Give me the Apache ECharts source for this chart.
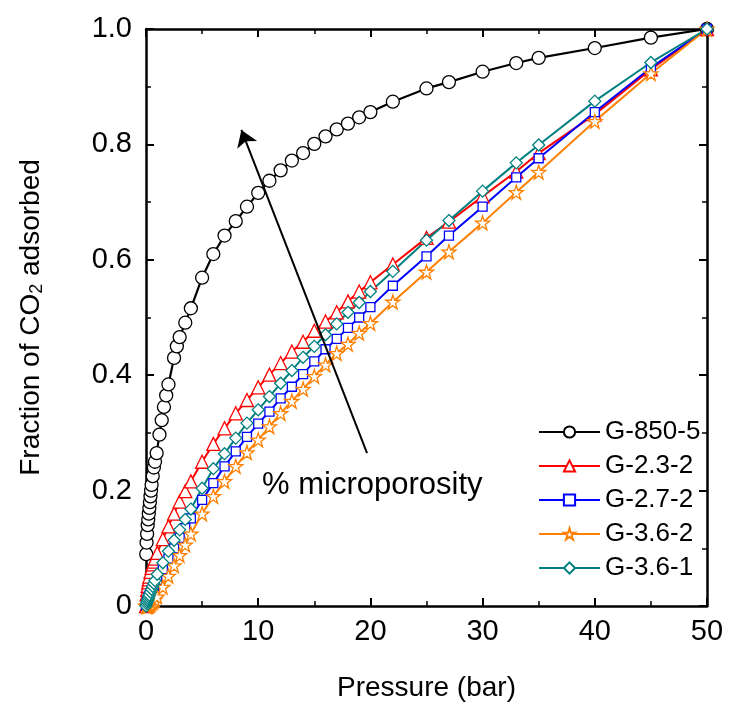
<!DOCTYPE html>
<html>
<head>
<meta charset="utf-8">
<script src="https://cdn.jsdelivr.net/npm/echarts@6/dist/echarts.min.js"></script>
<style>
html,body{margin:0;padding:0;background:#fff;}
#chart{width:731px;height:708px;}
</style>
</head>
<body>
<div id="chart"></div>
<script>
// ---- data ----
const seriesNames = ['G-850-5', 'G-2.3-2', 'G-2.7-2', 'G-3.6-2', 'G-3.6-1'];

const pBlack = [0.02,0.05,0.1,0.15,0.2,0.25,0.3,0.35,0.4,0.45,0.5,0.6,0.7,0.8,0.95,1.2,1.4,1.6,1.8,2,2.5,2.75,3,3.5,4,5,6,7,8,9,10,11,12,13,14,15,16,17,18,19,20,22,25,27,30,33,35,40,45,50];
const vBlack = [0.09,0.11,0.125,0.14,0.15,0.16,0.17,0.18,0.19,0.20,0.21,0.225,0.24,0.25,0.265,0.297,0.322,0.345,0.365,0.384,0.43,0.45,0.466,0.491,0.516,0.569,0.61,0.642,0.667,0.692,0.716,0.737,0.755,0.772,0.785,0.801,0.814,0.826,0.836,0.847,0.856,0.874,0.897,0.908,0.926,0.941,0.95,0.967,0.985,1.0];

const pCommon = [0,0.05,0.1,0.15,0.2,0.25,0.3,0.4,0.5,0.6,0.7,0.8,1,1.5,2,2.5,3,3.5,4,5,6,7,8,9,10,11,12,13,14,15,16,17,18,19,20,22,25,27,30,33,35,40,45,50];
const vRed = [0,0.02,0.028,0.035,0.041,0.046,0.051,0.059,0.066,0.072,0.077,0.082,0.092,0.116,0.138,0.160,0.181,0.199,0.216,0.250,0.281,0.308,0.334,0.357,0.379,0.401,0.421,0.441,0.458,0.477,0.493,0.509,0.528,0.545,0.561,0.592,0.638,0.666,0.710,0.753,0.785,0.852,0.930,1.0];
const vBlue = [0,0.004,0.007,0.01,0.013,0.016,0.018,0.022,0.026,0.030,0.034,0.038,0.045,0.064,0.082,0.100,0.118,0.135,0.152,0.184,0.213,0.242,0.268,0.293,0.316,0.337,0.360,0.380,0.402,0.424,0.445,0.463,0.482,0.500,0.518,0.555,0.606,0.642,0.692,0.743,0.776,0.856,0.933,1.0];
const vOrange = [0,0,0,0,0.001,0.001,0.002,0.003,0.005,0.007,0.009,0.011,0.016,0.033,0.052,0.070,0.088,0.106,0.125,0.160,0.190,0.216,0.242,0.266,0.288,0.311,0.334,0.355,0.376,0.398,0.418,0.438,0.454,0.473,0.490,0.527,0.579,0.614,0.664,0.717,0.752,0.840,0.923,1.0];
const vTeal = [0,0.004,0.007,0.010,0.013,0.016,0.019,0.024,0.029,0.034,0.039,0.044,0.055,0.075,0.095,0.114,0.132,0.150,0.168,0.204,0.238,0.264,0.291,0.317,0.340,0.363,0.386,0.408,0.431,0.450,0.470,0.489,0.509,0.526,0.545,0.580,0.634,0.668,0.719,0.768,0.799,0.875,0.942,1.0];

const xTicks = [0, 10, 20, 30, 40, 50];
const yTicks = [0, 0.2, 0.4, 0.6, 0.8, 1.0];

// annotation arrow (data coordinates) and text
const arrowFrom = [19.7, 0.265];
const arrowTo = [8.5, 0.825];
const annotationText = '% microporosity';

// ---- chart ----
const FONT = '"Liberation Sans", Arial, sans-serif';
const zip = (xs, ys) => xs.map((x, i) => [x, ys[i]]);
const STAR = 'path://M50,2 L61.2,36 L97,36 L68,57 L79,91 L50,70 L21,91 L32,57 L3,36 L38.8,36 Z';

function mk(name, xs, ys, color, symbol, size, lw) {
  return {
    name: name, type: 'line', data: zip(xs, ys),
    symbol: symbol, symbolSize: size, showSymbol: true,
    lineStyle: {color: color, width: lw},
    itemStyle: {color: '#fff', borderColor: color, borderWidth: 1.3},
    emphasis: {disabled: true},
    z: 3
  };
}

const axisCommon = {
  axisLine: {show: true, onZero: false, lineStyle: {color: '#000', width: 2.5}},
  axisTick: {show: true, inside: true, length: 8, lineStyle: {color: '#000', width: 2}},
  minorTick: {show: true, splitNumber: 2, length: 5, lineStyle: {color: '#000', width: 1.5}},
  splitLine: {show: false},
  minorSplitLine: {show: false}
};

const chart = echarts.init(document.getElementById('chart'), null, {renderer: 'canvas'});
const option = {
  animation: false,
  backgroundColor: '#fff',
  grid: {left: 146, right: 24, top: 29, bottom: 102, containLabel: false},
  xAxis: [
    Object.assign({
      type: 'value', min: xTicks[0], max: xTicks[xTicks.length - 1], interval: 10,
      position: 'bottom',
      name: 'Pressure (bar)', nameLocation: 'middle', nameGap: 68,
      nameTextStyle: {fontFamily: FONT, fontSize: 28, color: '#000'},
      axisLabel: {show: true, margin: 11, fontFamily: FONT, fontSize: 29, color: '#000'}
    }, axisCommon),
    Object.assign({
      type: 'value', min: xTicks[0], max: xTicks[xTicks.length - 1], interval: 10,
      position: 'top', axisLabel: {show: false}
    }, axisCommon)
  ],
  yAxis: [
    Object.assign({
      type: 'value', min: yTicks[0], max: yTicks[yTicks.length - 1], interval: 0.2,
      position: 'left',
      name: '{a|Fraction of CO}{s|2}{a| adsorbed}', nameLocation: 'middle', nameGap: 100,
      nameTextStyle: {
        fontFamily: FONT, color: '#000',
        rich: {
          a: {fontFamily: FONT, fontSize: 28, color: '#000', lineHeight: 30},
          s: {fontFamily: FONT, fontSize: 18, color: '#000', lineHeight: 30, verticalAlign: 'bottom', padding: [12, 0, 0, 0]}
        }
      },
      axisLabel: {
        show: true, margin: 14, fontFamily: FONT, fontSize: 29, color: '#000',
        formatter: v => (v === 0 ? '0' : v.toFixed(1))
      }
    }, axisCommon),
    Object.assign({
      type: 'value', min: yTicks[0], max: yTicks[yTicks.length - 1], interval: 0.2,
      position: 'right', axisLabel: {show: false}
    }, axisCommon)
  ],
  legend: {
    show: true, orient: 'vertical', left: 533, top: 412,
    itemWidth: 61, itemHeight: 14, itemGap: 4,
    textStyle: {fontFamily: FONT, fontSize: 26, color: '#000', lineHeight: 30},
    data: seriesNames,
    selectedMode: false
  },
  series: [
    mk(seriesNames[0], pBlack, vBlack, '#000000', 'circle', 13, 2.2),
    mk(seriesNames[1], pCommon, vRed, '#FF0000', 'triangle', 13, 2),
    mk(seriesNames[2], pCommon, vBlue, '#0000FF', 'rect', 9, 2),
    mk(seriesNames[3], pCommon, vOrange, '#FF8000', STAR, 14, 2),
    mk(seriesNames[4], pCommon, vTeal, '#008080', 'diamond', 12, 2),
    {
      name: 'annotation', type: 'line', data: [], silent: true,
      markLine: {
        silent: true, animation: false,
        symbol: ['none', 'arrow'], symbolSize: 16,
        label: {show: false},
        itemStyle: {color: '#000'},
        lineStyle: {color: '#000', width: 2, type: 'solid'},
        emphasis: {disabled: true},
        data: [[{coord: arrowFrom}, {coord: arrowTo}]]
      }
    }
  ],
  graphic: [{
    type: 'text', left: 262, top: 470, silent: true,
    style: {text: annotationText, fontFamily: FONT, fontSize: 31, fill: '#000'}
  }]
};
chart.setOption(option);
</script>
</body>
</html>
